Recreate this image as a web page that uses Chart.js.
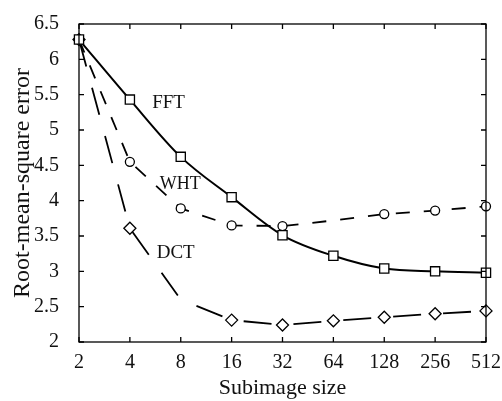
<!DOCTYPE html>
<html lang="en">
<head>
    <meta charset="UTF-8">
    <title>Root-mean-square error vs subimage size</title>
    <script src="https://cdn.jsdelivr.net/npm/chart.js"></script>
    <style>
        html, body { margin: 0; padding: 0; background: #fff; overflow: hidden; }
    </style>
</head>
<body>

<canvas id="errorChart" width="502" height="401"></canvas>

<script>
    // data
    const subimageSizes = ['2', '4', '8', '16', '32', '64', '128', '256', '512'];
    const fftError = [6.28, 5.43, 4.62, 4.05, 3.51, 3.22, 3.04, 3.00, 2.98];
    const whtError = [6.28, 4.55, 3.89, 3.65, 3.64, 3.72, 3.81, 3.86, 3.92];
    const dctError = [6.28, 3.61, 2.60, 2.31, 2.24, 2.30, 2.35, 2.40, 2.44];
    const whtMarked = [1, 1, 1, 1, 1, 0, 1, 1, 1];
    const dctMarked = [1, 1, 0, 1, 1, 1, 1, 1, 1];
    const yTicks = [2, 2.5, 3, 3.5, 4, 4.5, 5, 5.5, 6, 6.5];
    const curveNotes = [
        { text: 'FFT', x: 1.76, y: 5.38, size: 19 },
        { text: 'WHT', x: 1.99, y: 4.23, size: 18 },
        { text: 'DCT', x: 1.90, y: 3.26, size: 19 }
    ];

    const serif = 'Liberation Serif, Times New Roman, serif';

    // box around the plot with inward ticks, plus the curve names
    const framePlugin = {
        id: 'frame',
        afterDatasetsDraw(chart) {
            const { ctx, chartArea: a, scales: { x, y } } = chart;
            ctx.save();
            ctx.strokeStyle = '#000';
            ctx.lineWidth = 1.3;
            ctx.strokeRect(a.left, a.top, a.right - a.left, a.bottom - a.top);
            ctx.beginPath();
            subimageSizes.forEach((s, i) => {
                const px = x.getPixelForValue(i);
                ctx.moveTo(px, a.bottom); ctx.lineTo(px, a.bottom - 5);
                ctx.moveTo(px, a.top); ctx.lineTo(px, a.top + 5);
            });
            yTicks.forEach(v => {
                const py = y.getPixelForValue(v);
                ctx.moveTo(a.left, py); ctx.lineTo(a.left + 5, py);
                ctx.moveTo(a.right, py); ctx.lineTo(a.right - 5, py);
            });
            ctx.stroke();

            ctx.fillStyle = '#111';
            ctx.textAlign = 'center';
            ctx.textBaseline = 'middle';
            curveNotes.forEach(n => {
                ctx.font = n.size + 'px ' + serif;
                ctx.fillText(n.text, x.getPixelForValue(n.x), y.getPixelForValue(n.y));
            });
            ctx.restore();
        }
    };

    new Chart(document.getElementById('errorChart').getContext('2d'), {
        type: 'line',
        data: {
            labels: subimageSizes,
            datasets: [
                {
                    label: 'FFT',
                    data: fftError,
                    borderColor: '#000',
                    borderWidth: 2,
                    cubicInterpolationMode: 'monotone',
                    pointStyle: 'rect',
                    pointRadius: 6.5,
                    pointBorderWidth: 1.3,
                    pointBorderColor: '#000',
                    pointBackgroundColor: '#fff',
                    clip: false
                },
                {
                    label: 'WHT',
                    data: whtError,
                    borderColor: '#000',
                    borderWidth: 1.8,
                    borderDash: [14, 14],
                    tension: 0,
                    pointStyle: 'circle',
                    pointRadius: whtMarked.map(m => m ? 4.5 : 0),
                    pointBorderWidth: 1.3,
                    pointBorderColor: '#000',
                    pointBackgroundColor: '#fff',
                    clip: false
                },
                {
                    label: 'DCT',
                    data: dctError,
                    borderColor: '#000',
                    borderWidth: 1.8,
                    borderDash: [28, 22],
                    tension: 0,
                    pointStyle: 'rectRot',
                    pointRadius: dctMarked.map(m => m ? 6 : 0),
                    pointBorderWidth: 1.3,
                    pointBorderColor: '#000',
                    pointBackgroundColor: '#fff',
                    clip: false
                }
            ]
        },
        options: {
            responsive: false,
            animation: false,
            layout: { padding: { left: 0, right: 11, top: 15, bottom: 0 } },
            plugins: {
                legend: { display: false },
                tooltip: { enabled: false }
            },
            scales: {
                x: {
                    offset: false,
                    grid: { display: false },
                    border: { display: false },
                    ticks: {
                        color: '#111', padding: 1, autoSkip: false, maxRotation: 0,
                        font: { family: serif, size: 20 }
                    },
                    title: {
                        display: true,
                        text: 'Subimage size',
                        color: '#111',
                        padding: { top: 0, bottom: 0 },
                        font: { family: serif, size: 22 }
                    },
                    afterFit(scale) { scale.height = 59; }
                },
                y: {
                    min: 2,
                    max: 6.5,
                    grid: { display: false },
                    border: { display: false },
                    afterBuildTicks(scale) { scale.ticks = yTicks.map(v => ({ value: v })); },
                    ticks: {
                        color: '#111', padding: 12,
                        font: { family: serif, size: 20 },
                        callback: v => String(v)
                    },
                    title: {
                        display: true,
                        text: 'Root-mean-square error',
                        color: '#111',
                        padding: { top: 8, bottom: 0 },
                        font: { family: serif, size: 24 }
                    },
                    afterFit(scale) { scale.width = 79; }
                }
            }
        },
        plugins: [framePlugin]
    });
</script>

</body>
</html>
